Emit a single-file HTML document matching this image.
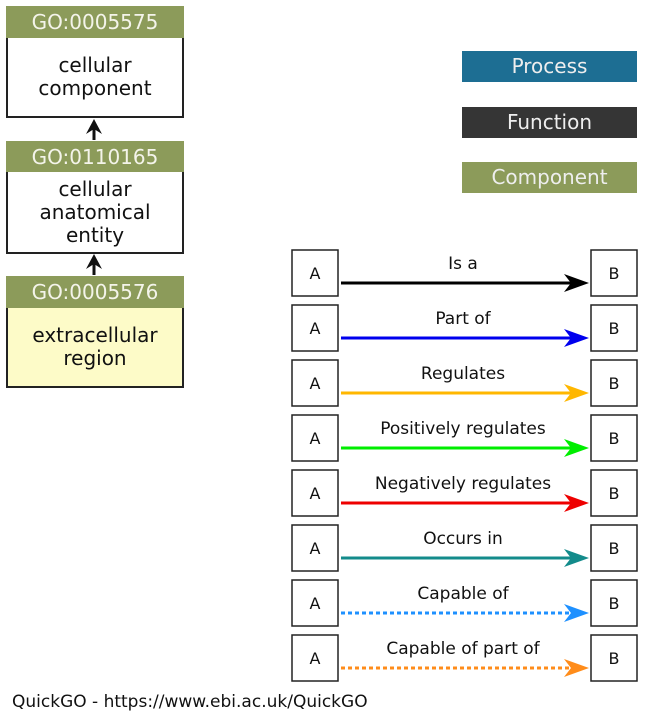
<!DOCTYPE html>
<html><head><style>
body{margin:0;width:645px;height:720px;background:#fff;position:relative;font-family:"DejaVu Sans","Liberation Sans",sans-serif;overflow:hidden}
.a{position:absolute;box-sizing:border-box}
.h{background:#8c9b5a;color:#f4f4ea;font-size:20px;text-align:center;line-height:32px}
.b{border:2px solid #222;border-top:none;font-size:20px;text-align:center;color:#111;line-height:23px;display:flex;align-items:center;justify-content:center}
.lg{color:#eee;font-size:20px;text-align:center;line-height:31px}
</style></head><body>
<div class="a h" style="left:6px;top:6px;width:178px;height:32px">GO:0005575</div>
<div class="a b" style="left:6px;top:38px;width:178px;height:80px;background:#fff">cellular<br>component</div>
<div class="a h" style="left:6px;top:141px;width:178px;height:31px">GO:0110165</div>
<div class="a b" style="left:6px;top:172px;width:178px;height:82px;background:#fff">cellular<br>anatomical<br>entity</div>
<div class="a h" style="left:6px;top:276px;width:178px;height:32px">GO:0005576</div>
<div class="a b" style="left:6px;top:308px;width:178px;height:80px;background:#fdfbc8">extracellular<br>region</div>
<div class="a lg" style="left:462px;top:51px;width:175px;height:31px;background:#1d6e93">Process</div>
<div class="a lg" style="left:462px;top:107px;width:175px;height:31px;background:#353535">Function</div>
<div class="a lg" style="left:462px;top:162px;width:175px;height:31px;background:#8c9b5a">Component</div>
<svg class="a" style="left:0;top:0" width="645" height="720" font-family="DejaVu Sans,sans-serif">
<g stroke="#111" stroke-width="3"><line x1="94" y1="140" x2="94" y2="124"/><line x1="94" y1="275" x2="94" y2="259"/></g>
<path d="M86 134 L94 119 L102 134 L94 129 Z" fill="#111"/>
<path d="M86 269 L94 254 L102 269 L94 264 Z" fill="#111"/>
<defs>
<g id="ab">
<rect x="292" y="0" width="46" height="46" fill="#fff" stroke="#222" stroke-width="1.5"/>
<rect x="591" y="0" width="46" height="46" fill="#fff" stroke="#222" stroke-width="1.5"/>
<text x="315" y="29" font-size="16" text-anchor="middle" fill="#111">A</text>
<text x="614" y="29" font-size="16" text-anchor="middle" fill="#111">B</text>
</g>
</defs>
<g font-size="17" text-anchor="middle" fill="#111">
<g transform="translate(0,250)"><use href="#ab"/><text x="463" y="19">Is a</text><line x1="341" y1="33" x2="575" y2="33" stroke="#000" stroke-width="3"/><path d="M564 24 L589 33 L564 42 L571 33 Z" fill="#000"/></g>
<g transform="translate(0,305)"><use href="#ab"/><text x="463" y="19">Part of</text><line x1="341" y1="33" x2="575" y2="33" stroke="#0000ee" stroke-width="3"/><path d="M564 24 L589 33 L564 42 L571 33 Z" fill="#0000ee"/></g>
<g transform="translate(0,360)"><use href="#ab"/><text x="463" y="19">Regulates</text><line x1="341" y1="33" x2="575" y2="33" stroke="#ffb700" stroke-width="3"/><path d="M564 24 L589 33 L564 42 L571 33 Z" fill="#ffb700"/></g>
<g transform="translate(0,415)"><use href="#ab"/><text x="463" y="19">Positively regulates</text><line x1="341" y1="33" x2="575" y2="33" stroke="#00ee00" stroke-width="3"/><path d="M564 24 L589 33 L564 42 L571 33 Z" fill="#00ee00"/></g>
<g transform="translate(0,470)"><use href="#ab"/><text x="463" y="19">Negatively regulates</text><line x1="341" y1="33" x2="575" y2="33" stroke="#ee0000" stroke-width="3"/><path d="M564 24 L589 33 L564 42 L571 33 Z" fill="#ee0000"/></g>
<g transform="translate(0,525)"><use href="#ab"/><text x="463" y="19">Occurs in</text><line x1="341" y1="33" x2="575" y2="33" stroke="#138b8b" stroke-width="3"/><path d="M564 24 L589 33 L564 42 L571 33 Z" fill="#138b8b"/></g>
<g transform="translate(0,580)"><use href="#ab"/><text x="463" y="19">Capable of</text><line x1="341" y1="33" x2="575" y2="33" stroke="#1e90ff" stroke-width="3" stroke-dasharray="4,3"/><path d="M564 24 L589 33 L564 42 L571 33 Z" fill="#1e90ff"/></g>
<g transform="translate(0,635)"><use href="#ab"/><text x="463" y="19">Capable of part of</text><line x1="341" y1="33" x2="575" y2="33" stroke="#ff8c1a" stroke-width="3" stroke-dasharray="4,3"/><path d="M564 24 L589 33 L564 42 L571 33 Z" fill="#ff8c1a"/></g>
</g>
</svg>
<div class="a" style="left:12px;top:692px;font-size:17px;color:#111">QuickGO - https://www.ebi.ac.uk/QuickGO</div>
</body></html>
